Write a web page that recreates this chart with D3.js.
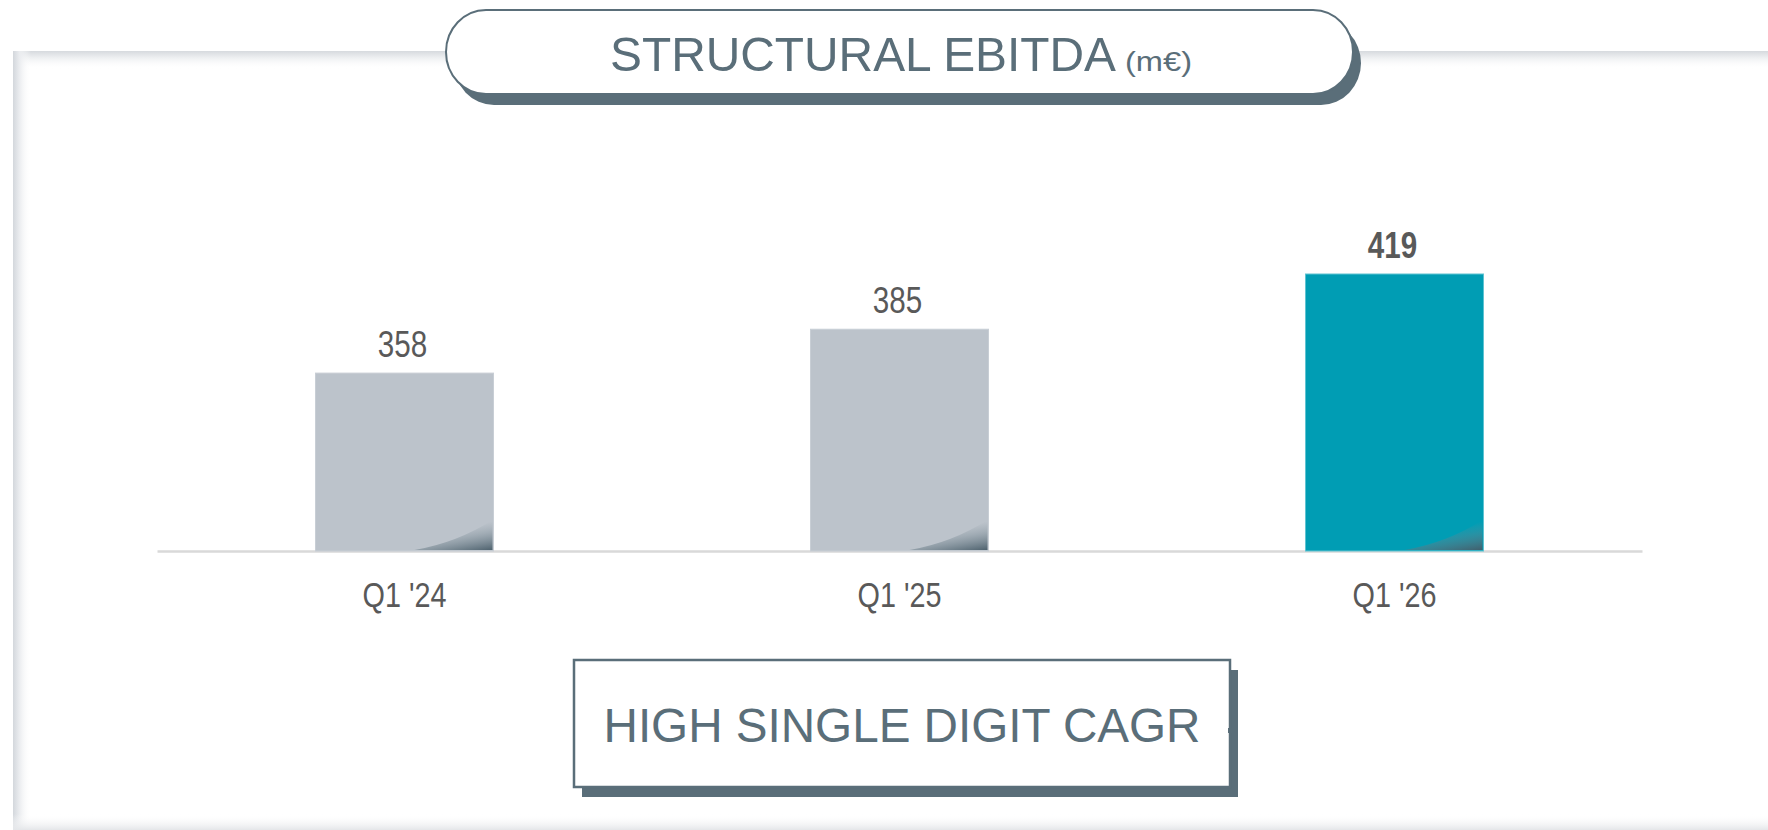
<!DOCTYPE html>
<html>
<head>
<meta charset="utf-8">
<script src="https://cdn.jsdelivr.net/npm/d3@7"></script>
<style>
  html, body { margin: 0; padding: 0; background: #ffffff; }
  svg { display: block; }
  text { font-family: "Liberation Sans", Arial, sans-serif; }
</style>
</head>
<body>
<svg id="chart" width="1768" height="830"></svg>
<script>
// ---- data ----
const categories = ["Q1 '24", "Q1 '25", "Q1 '26"];
const values = [358, 385, 419];
const highlighted = [false, false, true];
const titleMain = "STRUCTURAL EBITDA";
const titleUnit = "(m\u20AC)";
const footnote = "HIGH SINGLE DIGIT CAGR";

// ---- styles ----
const C = {
  slate: "#5a6e79",
  grey: "#bcc3cb",
  greyEdge: "#c8ced5",
  teal: "#009db4",
  tealEdge: "#5fc3d2",
  label: "#595959",
  axis: "#d9d9d9"
};

const W = 1768, H = 830;
const svg = d3.select("#chart");
const defs = svg.append("defs");

function lin(id, x1, y1, x2, y2, stops) {
  const g = defs.append("linearGradient").attr("id", id)
    .attr("x1", x1).attr("y1", y1).attr("x2", x2).attr("y2", y2);
  stops.forEach(s => g.append("stop").attr("offset", s[0]).attr("stop-color", s[1]).attr("stop-opacity", s[2]));
  return g;
}
lin("gTop", 0, 0, 0, 1, [[0, "#d6dade", 1], [0.35, "#eceef0", 1], [1, "#ffffff", 0]]);
lin("gLeft", 0, 0, 1, 0, [[0, "#d3d7dc", 1], [0.35, "#eaecef", 1], [1, "#ffffff", 0]]);
lin("gBottom", 0, 1, 0, 0, [[0, "#e4e6e9", 1], [1, "#ffffff", 0]]);
// corner curl: from the diagonal edge toward the bottom-right corner
lin("gCurl", 0.45, 0.3, 0.85, 1.15, [[0, "#7d8e98", 0], [0.35, "#6c7f8a", 0.35], [1, "#3f5461", 1]]);

// ---- panel ----
const panel = { x: 13, y: 51 };
svg.append("rect").attr("x", panel.x).attr("y", panel.y).attr("width", W - panel.x).attr("height", H - panel.y).attr("fill", "#ffffff");
svg.append("rect").attr("x", panel.x).attr("y", panel.y).attr("width", W - panel.x).attr("height", 18).attr("fill", "url(#gTop)");
svg.append("rect").attr("x", panel.x).attr("y", panel.y).attr("width", 18).attr("height", H - panel.y).attr("fill", "url(#gLeft)");
svg.append("rect").attr("x", panel.x).attr("y", H - 16).attr("width", W - panel.x).attr("height", 16).attr("fill", "url(#gBottom)");

// ---- scales ----
const x = d3.scaleBand().domain(categories).range([157, 1642]).paddingInner(0.6404).paddingOuter(0.3202);
const y = d3.scaleLinear().domain([248.5, 419]).range([551, 274]);
const baseY = y.range()[0];

// axis baseline
const axis = d3.axisBottom(x).tickSize(0).tickPadding(0).tickFormat("");
const axG = svg.append("g").attr("transform", `translate(0,${baseY})`).call(axis);
axG.select(".domain").attr("stroke", C.axis).attr("stroke-width", 2.5);

// bars
const data = categories.map((c, i) => ({ c, v: values[i], h: highlighted[i] }));
const bars = svg.append("g");
bars.selectAll("rect.bar").data(data).join("rect").attr("class", "bar")
  .attr("x", d => x(d.c)).attr("y", d => y(d.v))
  .attr("width", x.bandwidth()).attr("height", d => baseY - y(d.v))
  .attr("fill", d => d.h ? C.teal : C.grey)
  .attr("stroke", d => d.h ? C.tealEdge : C.greyEdge).attr("stroke-width", 1);

// corner curl shading (wedge at bottom-right of each bar)
const curlW = 78, curlH = 30;
bars.selectAll("path.curl").data(data).join("path").attr("class", "curl")
  .attr("d", d => {
    const r = x(d.c) + x.bandwidth() - 1, b = baseY - 1;
    return `M${r - curlW},${b} Q${r - curlW * 0.45},${b - curlH * 0.25} ${r},${b - curlH} L${r},${b} Z`;
  })
  .attr("fill", "url(#gCurl)");

// value labels (narrow face)
const narrow = 0.8;
svg.append("g").selectAll("g").data(data).join("g")
  .attr("transform", d => `translate(${x(d.c) + x.bandwidth() / 2 - 2},${y(d.v) - 16}) scale(${narrow},1)`)
  .append("text")
  .attr("text-anchor", "middle")
  .attr("font-size", 37)
  .attr("font-weight", d => d.h ? "bold" : "normal")
  .attr("fill", C.label)
  .text(d => d.v);

// category labels
svg.append("g").selectAll("g").data(categories).join("g")
  .attr("transform", c => `translate(${x(c) + x.bandwidth() / 2},${baseY + 56}) scale(${narrow},1)`)
  .append("text")
  .attr("text-anchor", "middle")
  .attr("font-size", 36)
  .attr("fill", C.label)
  .text(c => c);

// ---- title pill ----
const pill = { x: 446, y: 10, w: 907, h: 84, rx: 40, ry: 42, dx: 8, dy: 11 };
svg.append("rect").attr("x", pill.x + pill.dx).attr("y", pill.y + pill.dy)
  .attr("width", pill.w).attr("height", pill.h).attr("rx", pill.rx).attr("ry", pill.ry)
  .attr("fill", C.slate);
svg.append("rect").attr("x", pill.x).attr("y", pill.y)
  .attr("width", pill.w).attr("height", pill.h).attr("rx", pill.rx).attr("ry", pill.ry)
  .attr("fill", "#ffffff").attr("stroke", C.slate).attr("stroke-width", 2);
svg.append("text").attr("x", 610).attr("y", 71)
  .attr("font-size", 49).attr("fill", C.slate)
  .attr("textLength", 506).attr("lengthAdjust", "spacingAndGlyphs")
  .text(titleMain);
svg.append("text").attr("x", 1125).attr("y", 71)
  .attr("font-size", 28).attr("fill", C.slate)
  .attr("textLength", 67).attr("lengthAdjust", "spacingAndGlyphs")
  .text(titleUnit);

// ---- footnote box ----
const box = { x: 574, y: 660, w: 656, h: 127, dx: 8, dy: 10 };
svg.append("rect").attr("x", box.x + box.dx).attr("y", box.y + box.dy)
  .attr("width", box.w).attr("height", box.h).attr("fill", C.slate);
svg.append("rect").attr("x", box.x).attr("y", box.y)
  .attr("width", box.w).attr("height", box.h)
  .attr("fill", "#ffffff").attr("stroke", C.slate).attr("stroke-width", 2.5);
svg.append("rect").attr("x", box.x + box.w - 2).attr("y", 728).attr("width", 4).attr("height", 5).attr("fill", C.slate);
svg.append("text").attr("x", box.x + box.w / 2).attr("y", 742)
  .attr("text-anchor", "middle")
  .attr("font-size", 48).attr("fill", C.slate)
  .attr("textLength", 597).attr("lengthAdjust", "spacingAndGlyphs")
  .text(footnote);
</script>
</body>
</html>
